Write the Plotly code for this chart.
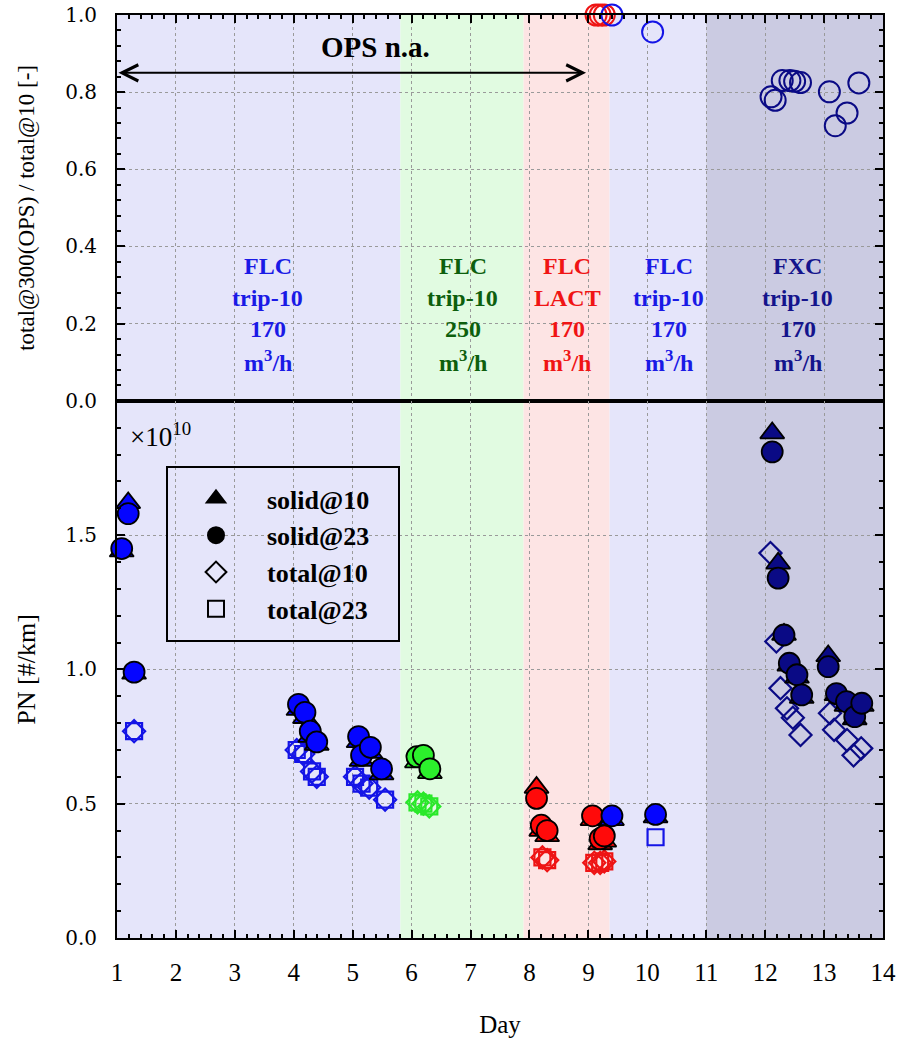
import plotly.graph_objects as go
from plotly.subplots import make_subplots

# ---- campaign bands (day ranges and labels) ----
band_start = [1.0, 5.81, 7.90, 9.36, 11.0]
band_end = [5.81, 7.90, 9.36, 11.0, 14.0]
band_fill = ["#e5e5fa", "#e1fbe1", "#fde4e4", "#e5e5fa", "#cbcbe2"]
band_label_day = [3.56, 6.87, 8.64, 10.36, 12.55]
band_label_lines = [
    ["FLC", "trip-10", "170", "m<sup>3</sup>/h"],
    ["FLC", "trip-10", "250", "m<sup>3</sup>/h"],
    ["FLC", "LACT", "170", "m<sup>3</sup>/h"],
    ["FLC", "trip-10", "170", "m<sup>3</sup>/h"],
    ["FXC", "trip-10", "170", "m<sup>3</sup>/h"],
]
band_label_color = ["#1a1ae6", "#0d5f0d", "#f01414", "#1a1ae6", "#14148c"]
label_line_y = [0.350, 0.266, 0.186, 0.102]

# marker colour per group: b = FLC 170, g = FLC 250, r = LACT, n = FXC
group_fill = {"b": "#0505ff", "g": "#2cf02c", "r": "#ff0a0a", "n": "#0a0a85"}
group_line = {"b": "#1414e6", "g": "#2ae82a", "r": "#ee1414", "n": "#0a0a85"}

# ---- solid@10 ----
solid10_day = [1.19, 1.08, 1.29, 4.08, 4.19, 4.28, 4.39, 5.10, 5.15, 5.30, 5.49,
               6.09, 6.20, 6.31, 8.12, 8.20, 8.30, 9.07, 9.20, 9.27, 9.40, 10.14,
               12.12, 12.22, 12.32, 12.41, 12.54, 12.62, 13.07, 13.21, 13.38, 13.52, 13.64]
solid10_pn = [1.62, 1.44, 0.985, 0.85, 0.82, 0.75, 0.72, 0.73, 0.66, 0.69, 0.61,
              0.655, 0.66, 0.615, 0.56, 0.40, 0.38, 0.44, 0.35, 0.36, 0.44, 0.45,
              1.88, 1.395, 1.13, 1.015, 0.97, 0.895, 1.05, 0.905, 0.865, 0.815, 0.865]
solid10_grp = ["b"] * 11 + ["g"] * 3 + ["r"] * 6 + ["b"] * 2 + ["n"] * 11

# ---- solid@23 ----
solid23_day = list(solid10_day)
solid23_pn = [1.58, 1.45, 0.99, 0.87, 0.84, 0.77, 0.73, 0.75, 0.68, 0.71, 0.63,
              0.675, 0.68, 0.63, 0.52, 0.42, 0.40, 0.455, 0.37, 0.38, 0.455, 0.46,
              1.81, 1.34, 1.128, 1.023, 0.98, 0.905, 1.01, 0.91, 0.88, 0.824, 0.874]
solid23_grp = list(solid10_grp)

# ---- total@10 ----
total10_day = [1.29, 4.05, 4.16, 4.31, 4.39, 5.04, 5.15, 5.28, 5.55,
               6.10, 6.20, 6.30, 8.22, 8.30, 9.10, 9.20, 9.27,
               12.09, 12.19, 12.26, 12.37, 12.47, 12.60, 13.10, 13.17, 13.39, 13.50, 13.63]
total10_pn = [0.77, 0.70, 0.685, 0.62, 0.60, 0.60, 0.575, 0.56, 0.515,
              0.505, 0.50, 0.49, 0.30, 0.29, 0.28, 0.28, 0.285,
              1.433, 1.104, 0.93, 0.855, 0.82, 0.756, 0.837, 0.775, 0.737, 0.68, 0.706]
total10_grp = ["b"] * 9 + ["g"] * 3 + ["r"] * 5 + ["n"] * 11

# ---- total@23 ----
total23_day = [1.29, 4.05, 4.16, 4.31, 4.39, 5.04, 5.15, 5.28, 5.55,
               6.10, 6.20, 6.30, 8.22, 8.30, 9.10, 9.20, 9.27, 10.14]
total23_pn = [0.77, 0.70, 0.685, 0.62, 0.60, 0.60, 0.575, 0.56, 0.515,
              0.505, 0.50, 0.49, 0.30, 0.29, 0.28, 0.28, 0.285, 0.375]
total23_grp = ["b"] * 9 + ["g"] * 3 + ["r"] * 5 + ["b"]

# ---- ratio total@300(OPS) / total@10 ----
ratio_day = [9.13, 9.20, 9.27, 9.40, 10.09, 12.10, 12.17, 12.29, 12.42, 12.50, 12.60,
             13.09, 13.19, 13.39, 13.59]
ratio_val = [1.0, 1.0, 1.0, 1.0, 0.956, 0.788, 0.779, 0.830, 0.830, 0.828, 0.825,
             0.801, 0.713, 0.746, 0.824]
ratio_grp = ["r", "r", "r", "b", "b"] + ["n"] * 10

legend_names = ["solid@10", "solid@23", "total@10", "total@23"]
legend_symbols = ["triangle-up", "circle", "diamond-open", "square-open"]

SERIF = "Liberation Serif"
TICKFONT = "DejaVu Serif"

fig = make_subplots(rows=2, cols=1, shared_xaxes=True, vertical_spacing=0,
                    row_heights=[0.418, 0.582])

# ratio panel
fig.add_trace(go.Scatter(
    x=ratio_day, y=ratio_val, mode="markers", showlegend=False, cliponaxis=False,
    marker=dict(symbol="circle-open", size=21,
                color=[group_line[g] for g in ratio_grp],
                line=dict(width=2, color=[group_line[g] for g in ratio_grp])),
), row=1, col=1)

# PN panel: totals underneath, solids on top
fig.add_trace(go.Scatter(
    x=total10_day, y=total10_pn, mode="markers", showlegend=False, cliponaxis=False,
    marker=dict(symbol="diamond-open", size=17,
                color=[group_line[g] for g in total10_grp],
                line=dict(width=2.2, color=[group_line[g] for g in total10_grp])),
), row=2, col=1)
fig.add_trace(go.Scatter(
    x=total23_day, y=total23_pn, mode="markers", showlegend=False, cliponaxis=False,
    marker=dict(symbol="square-open", size=16,
                color=[group_line[g] for g in total23_grp],
                line=dict(width=2.2, color=[group_line[g] for g in total23_grp])),
), row=2, col=1)
fig.add_trace(go.Scatter(
    x=solid10_day, y=solid10_pn, mode="markers", showlegend=False, cliponaxis=False,
    marker=dict(symbol="triangle-up", size=21,
                color=[group_fill[g] for g in solid10_grp],
                line=dict(width=1.8, color="black")),
), row=2, col=1)
fig.add_trace(go.Scatter(
    x=solid23_day, y=solid23_pn, mode="markers", showlegend=False, cliponaxis=False,
    marker=dict(symbol="circle", size=21,
                color=[group_fill[g] for g in solid23_grp],
                line=dict(width=1.8, color="black")),
), row=2, col=1)

# legend entries (black symbols)
for name, sym in zip(legend_names, legend_symbols):
    fig.add_trace(go.Scatter(
        x=[None], y=[None], mode="markers", name=name, legendgroup=name,
        marker=dict(symbol=sym, size=16, color="black", line=dict(width=2, color="black")),
    ), row=2, col=1)

# background bands spanning both panels
for x0, x1, c in zip(band_start, band_end, band_fill):
    fig.add_shape(type="rect", xref="x", yref="paper", x0=x0, x1=x1, y0=0, y1=1,
                  fillcolor=c, line_width=0, layer="below")

# band labels in the ratio panel, one annotation per line
for xd, lines, col in zip(band_label_day, band_label_lines, band_label_color):
    for txt, yl in zip(lines, label_line_y):
        fig.add_annotation(x=xd, y=yl, xref="x", yref="y", text=f"<b>{txt}</b>",
                           showarrow=False, font=dict(family=SERIF, size=24, color=col),
                           align="center")

# OPS not available marker
fig.add_annotation(x=5.38, y=0.917, xref="x", yref="y", text="<b>OPS n.a.</b>",
                   showarrow=False, font=dict(family=SERIF, size=29, color="black"))
fig.add_annotation(x=8.96, y=0.85, ax=1.0, ay=0.85, xref="x", yref="y",
                   axref="x", ayref="y", text="", showarrow=True,
                   arrowhead=5, startarrowhead=5, arrowside="end+start",
                   arrowsize=1.6, arrowwidth=2, arrowcolor="black")

# exponent label
fig.add_annotation(x=0.014, y=0.545, xref="paper", yref="paper", xanchor="left",
                   yanchor="middle", text="×10<sup>10</sup>", showarrow=False,
                   font=dict(family=SERIF, size=27, color="black"))

# legend frame
fig.add_shape(type="rect", xref="paper", yref="paper",
              x0=(167 - 117) / 766, x1=(399 - 117) / 766,
              y0=1 - (641 - 15) / 923, y1=1 - (467 - 15) / 923,
              line=dict(color="black", width=2), fillcolor="rgba(0,0,0,0)")

grid = dict(showgrid=True, gridcolor="#9a9a9a", griddash="dot", gridwidth=1)
axis_common = dict(showline=True, linecolor="black", linewidth=2, ticks="inside",
                   tickcolor="black", zeroline=False, **grid)

fig.update_xaxes(range=[1, 14], dtick=1, tick0=1, ticklen=8, tickwidth=1.5,
                 minor=dict(dtick=0.2, ticks="inside", ticklen=4, tickcolor="black",
                            showgrid=False),
                 **axis_common)
fig.update_xaxes(row=1, col=1, side="top", mirror=True, showticklabels=False)
fig.update_xaxes(row=2, col=1, side="bottom", mirror=True,
                 tickfont=dict(family=SERIF, size=25, color="black"),
                 ticklabelstandoff=11,
                 title=dict(text="Day", font=dict(family=SERIF, size=25, color="black"),
                            standoff=40))

fig.update_yaxes(row=1, col=1, range=[0, 1], dtick=0.2, tick0=0, tickformat=".1f",
                 mirror="allticks", ticklen=8, tickwidth=1.5,
                 minor=dict(dtick=0.04, ticks="inside", ticklen=4, tickcolor="black",
                            showgrid=False),
                 tickfont=dict(family=TICKFONT, size=20, color="black"),
                 ticklabelstandoff=14,
                 title=dict(text="total@300(OPS) / total@10 [-]",
                            font=dict(family=SERIF, size=23, color="black"), standoff=24),
                 **axis_common)
fig.update_yaxes(row=2, col=1, range=[0, 2], tickvals=[0, 0.5, 1.0, 1.5],
                 tickformat=".1f", mirror="allticks", ticklen=8, tickwidth=1.5,
                 minor=dict(dtick=0.1, ticks="inside", ticklen=4, tickcolor="black",
                            showgrid=False),
                 tickfont=dict(family=TICKFONT, size=20, color="black"),
                 ticklabelstandoff=14,
                 title=dict(text="PN [#/km]",
                            font=dict(family=SERIF, size=26, color="black"), standoff=22),
                 **axis_common)

fig.update_layout(
    width=897, height=1038,
    margin=dict(l=117, r=14, t=15, b=100, autoexpand=False),
    paper_bgcolor="white", plot_bgcolor="white",
    font=dict(family=SERIF, color="black"),
    legend=dict(x=(165 - 117) / 766, y=1 - (475 - 15) / 923, xanchor="left", yanchor="top",
                bgcolor="rgba(0,0,0,0)", borderwidth=0, tracegroupgap=0,
                itemwidth=92,
                font=dict(family=SERIF, size=26, color="black", weight="bold")),
)

fig.write_html("out.html")
